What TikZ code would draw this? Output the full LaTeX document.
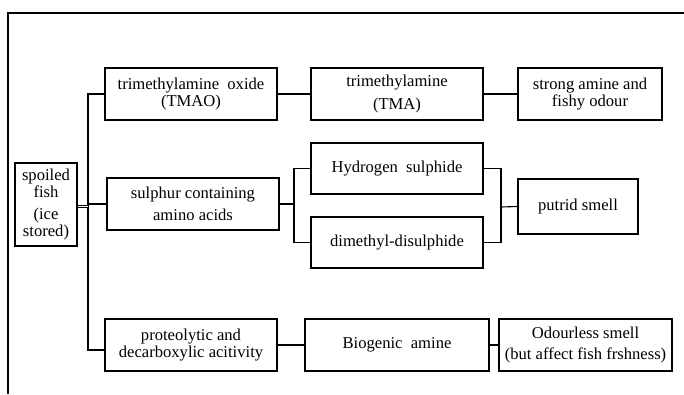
\documentclass[tikz,border=0pt]{standalone}
\usepackage{fontspec}
\setmainfont{Liberation Serif}

\begin{document}
\begin{tikzpicture}[x=1pt,y=-1pt,
    box/.style={draw,line width=1.3pt,inner sep=0pt,align=center,
      minimum width=172pt,minimum height=52pt,
      font=\fontsize{16.6}{16.5}\selectfont},
    link/.style={line width=1.1pt}]
  \useasboundingbox (0,0) rectangle (684,394);
  \draw[line width=1.3pt] (684,13) -- (8,13) -- (8,394);

  \node[box,minimum width=62pt,minimum height=83pt] (fish) at (46,204.5)
    {spoiled\\fish\\[6pt](ice\\stored)};

  % top row
  \node[box] (tmao) at (191,94) {trimethylamine\ \ oxide\\(TMAO)};
  \node[box] (tma) at (397,94) {trimethylamine\\[7pt](TMA)};
  \node[box,minimum width=144pt] (amine) at (590,94) {strong amine and\\fishy odour};

  % middle row
  \node[box] (sulph) at (193,204) {sulphur containing\\[5pt]amino acids};
  \node[box,minimum height=51pt] (hyd) at (397,168.5) {Hydrogen\ \ sulphide};
  \node[box,minimum height=51pt] (dms) at (397,242.5) {dimethyl-disulphide};
  \node[box,minimum width=120pt,minimum height=55pt] (putrid) at (578,206.5) {putrid smell};

  % bottom row
  \node[box] (prot) at (191,345) {proteolytic and\\decarboxylic acitivity};
  \node[box,minimum width=184pt] (bio) at (397,345) {Biogenic\ \ amine};
  \node[box,minimum width=173pt] (odour) at (585.5,345)
    {Odourless smell\\[5pt](but affect fish frshness)};

  \coordinate (trunk) at (88,206.5);
  \coordinate (sj) at (294,204);
  \coordinate (pj) at (501,207);

  \draw[link] (tmao.west) -| (trunk) |- ([yshift=-5pt]prot.west);
  \draw[line width=0.9pt,double,double distance=1.4pt] ([yshift=-2pt]fish.east) -- (trunk);
  \draw[link] (trunk |- sulph.west) -- (sulph.west);

  \draw[link] (tmao) -- (tma);
  \draw[link] (tma) -- (amine);

  \draw[link] (sulph.east) -- (sj);
  \draw[link] (hyd.west) -| (sj) |- (dms.west);
  \draw[link] (hyd.east) -| (pj) |- (dms.east);
  \draw[link] (pj) -- (putrid.west);

  \draw[link] (prot) -- (bio);
  \draw[link] (bio) -- (odour);
\end{tikzpicture}
\end{document}
